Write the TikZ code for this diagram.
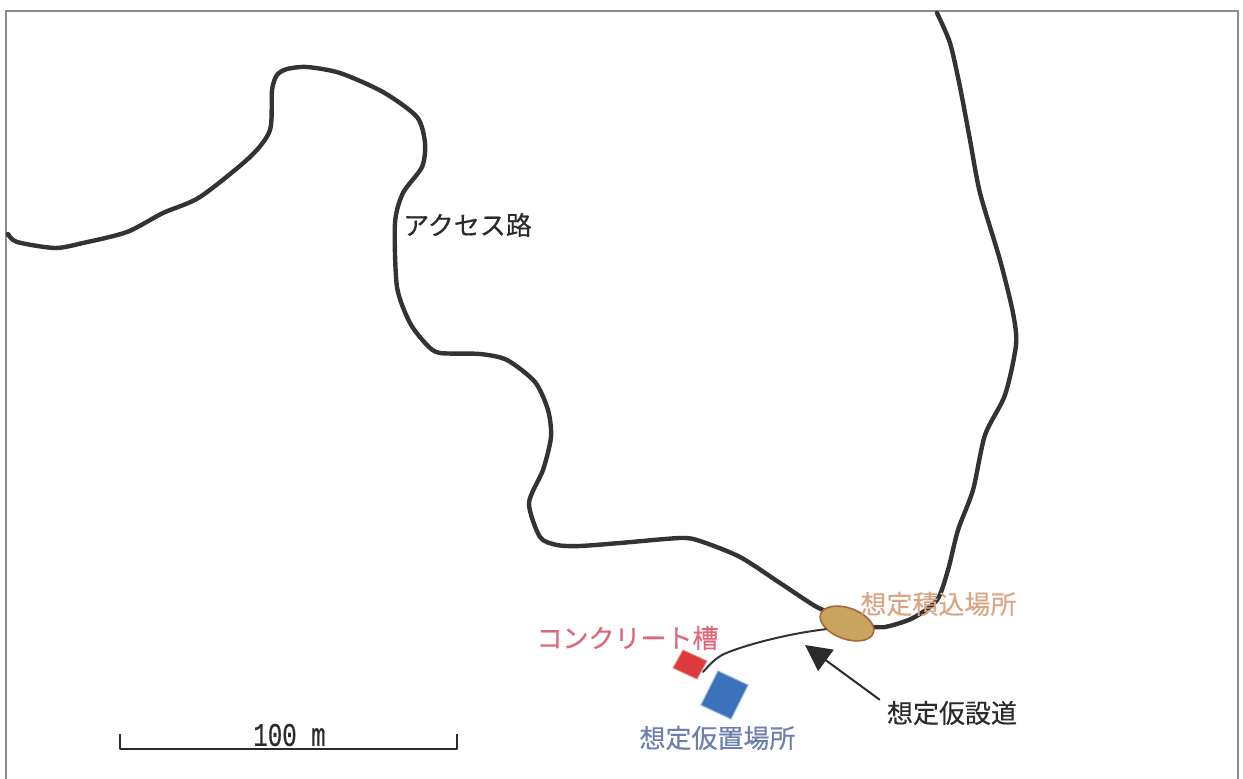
\documentclass[tikz,border=0pt]{standalone}
\usepackage{fontspec}
\usepackage{graphicx}
\setmainfont[FakeBold=0.4]{Noto Sans CJK JP}
\newfontfamily\scalefont[FakeBold=0.6]{Liberation Mono}
\usetikzlibrary{shapes.geometric,arrows.meta}
\definecolor{roadc}{HTML}{333333}
\definecolor{framec}{HTML}{8C8C8C}
\definecolor{orangec}{HTML}{D9A685}
\definecolor{redc}{HTML}{E0677A}
\definecolor{bluec}{HTML}{6C7FAE}
\definecolor{inkc}{HTML}{2B2B2B}
\definecolor{yardfill}{HTML}{C9A45E}
\definecolor{yardline}{HTML}{A4683A}
\definecolor{tankfill}{HTML}{DC3B3E}
\definecolor{tankline}{HTML}{E58A8A}
\definecolor{storefill}{HTML}{3B72BC}
\definecolor{storeline}{HTML}{8FB0DC}
\tikzset{
  road/.style={draw=roadc,line width=4.4pt,line cap=round,line join=round},
  lbl/.style={font=\fontsize{26}{26}\selectfont,inner sep=0pt,anchor=center},
}
\begin{document}
\begin{tikzpicture}[x=1pt,y=-1pt]
\useasboundingbox[fill=white] (0,0) rectangle (1243,779);
% frame
\draw[framec,line width=1.6pt] (6,779) -- (6,11) -- (1238,11) -- (1238,779);
% road
\draw[road] plot[smooth,tension=.45] coordinates {
 (8,234) (17,242) (55,248) (83,243) (127,232) (163,213) (200,197) (250,157) (270,130)
 (272,90) (277,75) (287,69) (307,67) (340,73) (383,92) (417,117) (425,143) (422,167)
 (403,193) (395,223) (397,287) (410,323) (427,345) (440,353) (480,354) (507,360)
 (535,382) (548,410) (551,437) (543,470) (529,503) (540,537) (557,545) (580,546)
 (620,543) (680,538) (700,541) (740,557) (780,583) (815,606) (835,615)};
\draw[road] plot[smooth,tension=.45] coordinates {
 (865,626) (885,627) (913,618) (937,600) (948,570) (958,530) (973,490) (985,435)
 (1005,395) (1016,345) (1013,313) (1000,260) (980,193) (970,140) (960,87) (950,43) (937,13)};
% yard and temporary road
\node[ellipse,draw=yardline,fill=yardfill,line width=1.6pt,
  minimum width=56pt,minimum height=31pt,inner sep=0pt,rotate=-20] (yard) at (847,623.5) {};
\coordinate (roadend) at (703,672);
\draw[roadc,line width=2pt,line cap=round] (roadend) .. controls (711,663) and (716,658) .. (724,654) .. controls (742,646) and (785,634) .. (yard.215);
% tank and storage
\filldraw[draw=tankline,fill=tankfill,line width=.8pt]
  (683,650) -- (707,661) -- (697,679) -- (673,668) -- cycle;
\filldraw[draw=storeline,fill=storefill,line width=1pt]
  (718,671) -- (748,685) -- (731,719) -- (701,705) -- cycle;
% labels
\node[lbl,text=inkc] (access) at (467.5,225) {アクセス路};
\node[lbl,text=orangec] (yardlabel) at (938.5,604) {想定積込場所};
\node[lbl,text=redc] (tanklabel) at (627.5,638) {コンクリート槽};
\node[lbl,text=bluec] (storelabel) at (717.5,738) {想定仮置場所};
\node[lbl,text=inkc,inner xsep=7pt,minimum height=26pt] (roadlabel) at (952,713) {想定仮設道};
% arrow
\coordinate (tip) at (805,645);
\draw[inkc,line width=2pt,-{Triangle[length=26pt,width=26pt]}] (roadlabel.north west) -- (tip);
% scale bar
\coordinate (sa) at (120,734);
\coordinate (sb) at (457,734);
\draw[inkc,line width=2pt,line join=round] (sa) -- (120,749) -- (457,749) -- (sb);
\node[inner sep=0pt,text=inkc] (scalelabel) at (289.5,735) {\scalebox{.73}[1]{\scalefont\fontsize{33}{33}\selectfont 100 m}};
\end{tikzpicture}
\end{document}
